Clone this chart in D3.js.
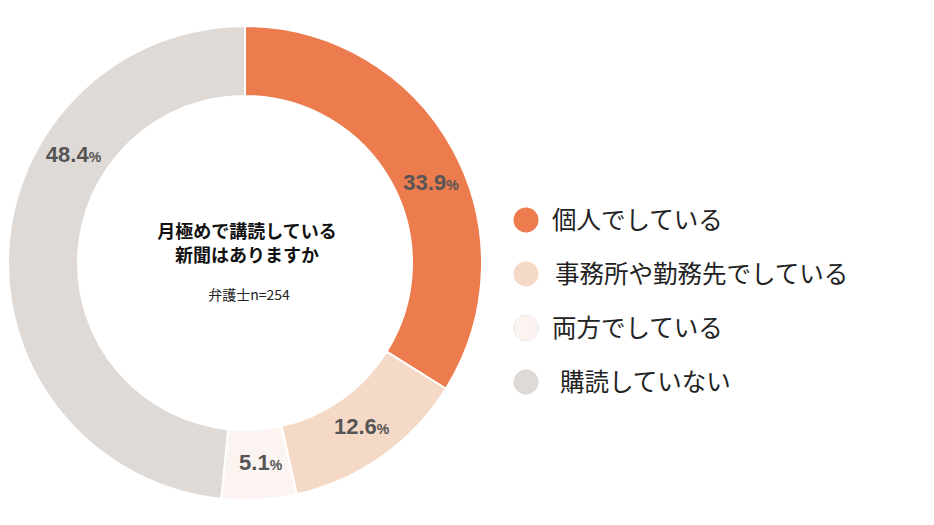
<!DOCTYPE html>
<html><head><meta charset="utf-8">
<script src="https://cdn.jsdelivr.net/npm/d3@7"></script>
<style>html,body{margin:0;padding:0;background:#fff;}</style>
</head><body>
<svg id="c" width="934" height="525"></svg>
<script>
const categories = ["個人でしている","事務所や勤務先でしている","両方でしている","購読していない"];
const values = [33.9, 12.6, 5.1, 48.4];
const colors = ["#EC7B4E","#F5D9C7","#FBF4F1","#E0DAD7"];
const titleLines = ["月極めで講読している","新聞はありますか"];
const subtitle = "弁護士n=254";

const svg = d3.select("#c");
const cx = 245, cy = 263, rOuter = 237, rInner = 167;
const g = svg.append("g").attr("transform", `translate(${cx},${cy})`);

const pie = d3.pie().sort(null).value(d => d)(values);
const arc = d3.arc().innerRadius(rInner).outerRadius(rOuter);
g.selectAll("path.slice").data(pie).join("path")
  .attr("class","slice")
  .attr("d", arc)
  .attr("fill", (d,i) => colors[i])
  .attr("stroke", "#fff").attr("stroke-width", 2);

// label placement tweak (degrees) to match original layout
const labelShift = [6, 0, -1, 29];
const rLabel = (rInner + rOuter) / 2;
pie.forEach((d, i) => {
  const a = (d.startAngle + d.endAngle) / 2 + labelShift[i] * Math.PI / 180;
  const x = Math.sin(a) * rLabel, y = -Math.cos(a) * rLabel;
  const t = g.append("text")
    .attr("x", x).attr("y", y).attr("dy", "0.35em")
    .attr("text-anchor", "middle")
    .attr("font-family", "'Liberation Sans', Arial, sans-serif")
    .attr("font-weight", "bold").attr("fill", "#555");
  t.append("tspan").attr("font-size", 22).text(d.data.toFixed(1));
  t.append("tspan").attr("font-size", 14).text("%");
});

// center text
g.selectAll("text.title").data(titleLines).join("text")
  .attr("class","title")
  .attr("x", 2).attr("y", (d,i) => -31 + i * 24)
  .attr("dy", "0.35em")
  .attr("text-anchor", "middle")
  .attr("font-family", "'Noto Sans CJK JP', sans-serif")
  .attr("font-weight", "bold").attr("font-size", 18).attr("fill", "#111")
  .text(d => d);
g.append("text")
  .attr("x", 4).attr("y", 32).attr("dy", "0.35em")
  .attr("text-anchor", "middle")
  .attr("font-family", "'Noto Sans CJK JP', sans-serif")
  .attr("font-size", 14).attr("fill", "#222")
  .text(subtitle);

// legend
const legendY = d3.scalePoint().domain(categories).range([220, 382]);
const legendTextShift = [0, 3, 0, 8];
const lg = svg.append("g");
categories.forEach((c, i) => {
  const y = legendY(c);
  lg.append("circle").attr("cx", 526).attr("cy", y).attr("r", 12.5)
    .attr("fill", colors[i])
    .attr("stroke", i === 2 ? "#EEE6E2" : "none").attr("stroke-width", 1);
  lg.append("text").attr("x", 552 + legendTextShift[i]).attr("y", y).attr("dy", "0.36em")
    .attr("font-family", "'Noto Sans CJK JP', sans-serif")
    .attr("font-size", 24.5).attr("fill", "#222")
    .text(c);
});
</script>
</body></html>
